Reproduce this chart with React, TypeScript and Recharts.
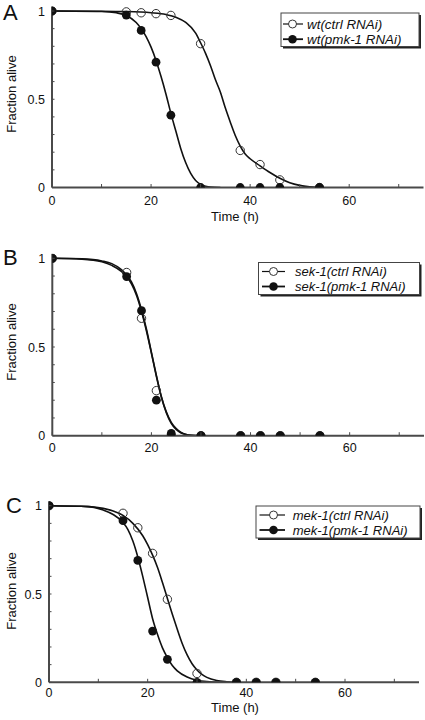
import { ComposedChart, Line, Scatter, XAxis, YAxis } from "recharts";

// sampling times (h) shared by every survival series
const times = [0, 15, 18, 21, 24, 30, 38, 42, 46, 54];

const aCtrl = [1, 0.995, 0.99, 0.985, 0.975, 0.815, 0.21, 0.13, 0.043, 0];
const aPmk = [1, 0.977, 0.89, 0.71, 0.41, 0, 0, 0, 0, 0];
const bCtrl = [1, 0.92, 0.662, 0.254, 0, 0, 0, 0, 0, 0];
const bPmk = [1, 0.897, 0.705, 0.2, 0.013, 0, 0, 0, 0, 0];
const cCtrl = [1, 0.957, 0.875, 0.73, 0.47, 0.05, 0, 0, 0, 0];
const cPmk = [1, 0.915, 0.69, 0.29, 0.13, 0, 0, 0, 0, 0];

// fitted curves as [time, fraction] pairs
const aCtrlFit = [
  [0, 1], [10, 0.999], [15, 0.997], [20, 0.99], [23, 0.98], [25, 0.965], [27, 0.935],
  [29, 0.875], [30, 0.82], [31, 0.76], [32, 0.69], [33, 0.61], [34, 0.54], [35, 0.45],
  [36, 0.37], [37, 0.295], [38, 0.235], [39, 0.19], [40, 0.163], [42, 0.123], [44, 0.085],
  [46, 0.052], [48, 0.027], [50, 0.012], [52, 0.004], [54, 0],
];
const aPmkFit = [
  [0, 1], [10, 0.997], [13, 0.99], [15, 0.975], [17, 0.935], [18, 0.9], [19, 0.855],
  [20, 0.795], [21, 0.72], [22, 0.63], [23, 0.53], [24, 0.42], [25, 0.32], [26, 0.22],
  [27, 0.14], [28, 0.08], [29, 0.04], [30, 0.018], [31, 0.007], [32, 0.002], [34, 0],
];
const bCtrlFit = [
  [0, 1], [6, 0.997], [10, 0.985], [12, 0.97], [14, 0.935], [15, 0.905], [16, 0.865],
  [17, 0.8], [18, 0.71], [19, 0.6], [20, 0.47], [21, 0.34], [22, 0.22], [23, 0.13],
  [24, 0.07], [25, 0.035], [26, 0.015], [27, 0.006], [28, 0.002], [30, 0],
];
const bPmkFit = [
  [0, 1], [6, 0.995], [10, 0.98], [12, 0.96], [14, 0.925], [15, 0.895], [16, 0.855],
  [17, 0.79], [18, 0.7], [19, 0.59], [20, 0.465], [21, 0.335], [22, 0.22], [23, 0.135],
  [24, 0.075], [25, 0.04], [26, 0.018], [27, 0.007], [28, 0.002], [30, 0],
];
const cCtrlFit = [
  [0, 1], [8, 0.995], [11, 0.985], [13, 0.97], [15, 0.945], [17, 0.9], [19, 0.83],
  [20, 0.78], [21, 0.72], [22, 0.65], [23, 0.565], [24, 0.475], [25, 0.385], [26, 0.3],
  [27, 0.22], [28, 0.155], [29, 0.105], [30, 0.07], [31, 0.045], [32, 0.028], [34, 0.01],
  [36, 0.003], [38, 0],
];
const cPmkFit = [
  [0, 1], [8, 0.995], [11, 0.975], [13, 0.95], [15, 0.905], [16, 0.865], [17, 0.8],
  [18, 0.71], [19, 0.6], [20, 0.48], [21, 0.36], [22, 0.27], [23, 0.195], [24, 0.14],
  [25, 0.095], [26, 0.065], [28, 0.03], [30, 0.012], [32, 0.004], [35, 0],
];

const xTicks = [0, 10, 20, 30, 40, 50, 60, 70];
const xLabels = [0, 20, 40, 60];
const yTicks = [0, 0.1, 0.2, 0.3, 0.4, 0.5, 0.6, 0.7, 0.8, 0.9, 1];
const yLabels: Record<string, string> = { "0": "0", "0.5": "0.5", "1": "1" };

const font = "'Liberation Sans', Arial, Helvetica, sans-serif";
const AXIS = "#4a4a4a";

const toPoints = (vals: number[]) => times.map((t, i) => ({ t, v: vals[i] }));
const toCurve = (pairs: number[][]) => pairs.map(([t, v]) => ({ t, v }));

const panels = [
  {
    letter: "A", x0: 52, y1: 11, y0: 187.5, xEnd: 423.5, tickDy: 17, timeY: 221,
    ctrl: aCtrl, pmk: aPmk, ctrlFit: aCtrlFit, pmkFit: aPmkFit,
    letterPos: [3, 20], ylabelY: 94,
    legend: { x: 281, y: 13, w: 138, h: 33.5, rows: [24, 39.2], lx: [283, 303], mx: 292.5, tx: 307, fs: 13.4 },
    labels: ["wt(ctrl RNAi)", "wt(pmk-1 RNAi)"],
  },
  {
    letter: "B", x0: 52.3, y1: 258.3, y0: 435.7, xEnd: 424, tickDy: 16.5, timeY: 0,
    ctrl: bCtrl, pmk: bPmk, ctrlFit: bCtrlFit, pmkFit: bPmkFit,
    letterPos: [3, 265], ylabelY: 342,
    legend: { x: 258.5, y: 262.5, w: 161, h: 32, rows: [271.5, 286.5], lx: [262, 285], mx: 273.5, tx: 295, fs: 13 },
    labels: ["sek-1(ctrl RNAi)", "sek-1(pmk-1 RNAi)"],
  },
  {
    letter: "C", x0: 49, y1: 505.7, y0: 682.3, xEnd: 419, tickDy: 14.5, timeY: 712,
    ctrl: cCtrl, pmk: cPmk, ctrlFit: cCtrlFit, pmkFit: cPmkFit,
    letterPos: [6, 513], ylabelY: 591,
    legend: { x: 256, y: 506, w: 164, h: 32, rows: [515, 530], lx: [259.5, 285], mx: 273.5, tx: 292.7, fs: 13 },
    labels: ["mek-1(ctrl RNAi)", "mek-1(pmk-1 RNAi)"],
  },
];

function OpenDot(props: any) {
  const { cx, cy } = props;
  if (cx == null || cy == null) return <g />;
  return <circle cx={cx} cy={cy} r={4.2} fill="none" stroke="#333" strokeWidth={1} />;
}

function FilledDot(props: any) {
  const { cx, cy } = props;
  if (cx == null || cy == null) return <g />;
  return <circle cx={cx} cy={cy} r={4.4} fill="#111" />;
}

function Panel({ p }: { p: (typeof panels)[number] }) {
  const span = (p.y0 - p.y1) * 1.025;
  // axes get 1px of size so they render; margins absorb it
  const margin = { top: p.y0 - span, left: p.x0 - 1, right: 425 - p.xEnd, bottom: 720 - p.y0 - 1 };

  const xTick = (props: any) => {
    const { x, y, payload } = props;
    const v = payload.value;
    return (
      <g>
        <line x1={x} x2={x} y1={y} y2={y - 3.5} stroke={AXIS} strokeWidth={1} />
        {xLabels.includes(v) && (
          <text x={x} y={y + p.tickDy} textAnchor="middle" fontSize={12.5} fontFamily={font} fill="#111">
            {v}
          </text>
        )}
      </g>
    );
  };

  const yTick = (props: any) => {
    const { x, y, payload } = props;
    const key = String(Math.round(payload.value * 10) / 10);
    return (
      <g>
        <line x1={x} x2={x + 2.5} y1={y} y2={y} stroke={AXIS} strokeWidth={1} />
        {yLabels[key] && (
          <text x={x - 7} y={y + 4.5} textAnchor="end" fontSize={12.5} fontFamily={font} fill="#111">
            {yLabels[key]}
          </text>
        )}
      </g>
    );
  };

  return (
    <div style={{ position: "absolute", left: 0, top: 0 }}>
      <ComposedChart width={425} height={720} margin={margin}>
        <XAxis
          type="number"
          dataKey="t"
          domain={[0, 75]}
          ticks={xTicks}
          interval={0}
          height={1}
          tickSize={0}
          tickMargin={0}
          tickLine={false}
          tick={xTick}
          axisLine={{ stroke: AXIS, strokeWidth: 2 }}
          allowDataOverflow
        />
        <YAxis
          type="number"
          dataKey="v"
          domain={[0, 1.025]}
          ticks={yTicks}
          interval={0}
          width={1}
          tickSize={0}
          tickMargin={0}
          tickLine={false}
          tick={yTick}
          axisLine={{ stroke: AXIS, strokeWidth: 2 }}
          allowDataOverflow
        />
        <Line data={toCurve(p.ctrlFit)} dataKey="v" type="monotone" dot={false} stroke="#111" strokeWidth={1.6} isAnimationActive={false} />
        <Line data={toCurve(p.pmkFit)} dataKey="v" type="monotone" dot={false} stroke="#111" strokeWidth={1.6} isAnimationActive={false} />
        <Scatter data={toPoints(p.ctrl)} dataKey="v" shape={OpenDot} isAnimationActive={false} />
        <Scatter data={toPoints(p.pmk)} dataKey="v" shape={FilledDot} isAnimationActive={false} />
      </ComposedChart>
    </div>
  );
}

function Overlay() {
  return (
    <svg width={425} height={720} style={{ position: "absolute", left: 0, top: 0 }} fontFamily={font}>
      {panels.map((p) => {
        const L = p.legend;
        return (
          <g key={p.letter}>
            <text x={p.letterPos[0]} y={p.letterPos[1]} fontSize={22} fill="#111">
              {p.letter}
            </text>
            <text
              transform={`translate(11,${p.ylabelY}) rotate(-90)`}
              textAnchor="middle"
              dy="0.35em"
              fontSize={13}
              fill="#111"
            >
              Fraction alive
            </text>
            {p.timeY > 0 && (
              <text x={235} y={p.timeY} textAnchor="middle" fontSize={13} fill="#111">
                Time (h)
              </text>
            )}
            <rect x={L.x + 2} y={L.y + 2} width={L.w} height={L.h} fill="#222" />
            <rect x={L.x} y={L.y} width={L.w} height={L.h} fill="#fff" stroke="#444" strokeWidth={1} />
            {L.rows.map((ry, i) => (
              <g key={i}>
                <line x1={L.lx[0]} x2={L.lx[1]} y1={ry} y2={ry} stroke="#111" strokeWidth={i === 0 ? 1.2 : 1.8} />
                {i === 0 ? (
                  <circle cx={L.mx} cy={ry} r={4} fill="#fff" stroke="#333" strokeWidth={1} />
                ) : (
                  <circle cx={L.mx} cy={ry} r={4.3} fill="#111" />
                )}
                <text x={L.tx} y={ry + 4.6} fontSize={L.fs} fontStyle="italic" fill="#111">
                  {p.labels[i]}
                </text>
              </g>
            ))}
          </g>
        );
      })}
    </svg>
  );
}

export default function App() {
  return (
    <div style={{ position: "absolute", left: 0, top: 0, width: 425, height: 720, background: "#fff" }}>
      {panels.map((p) => (
        <Panel key={p.letter} p={p} />
      ))}
      <Overlay />
    </div>
  );
}
